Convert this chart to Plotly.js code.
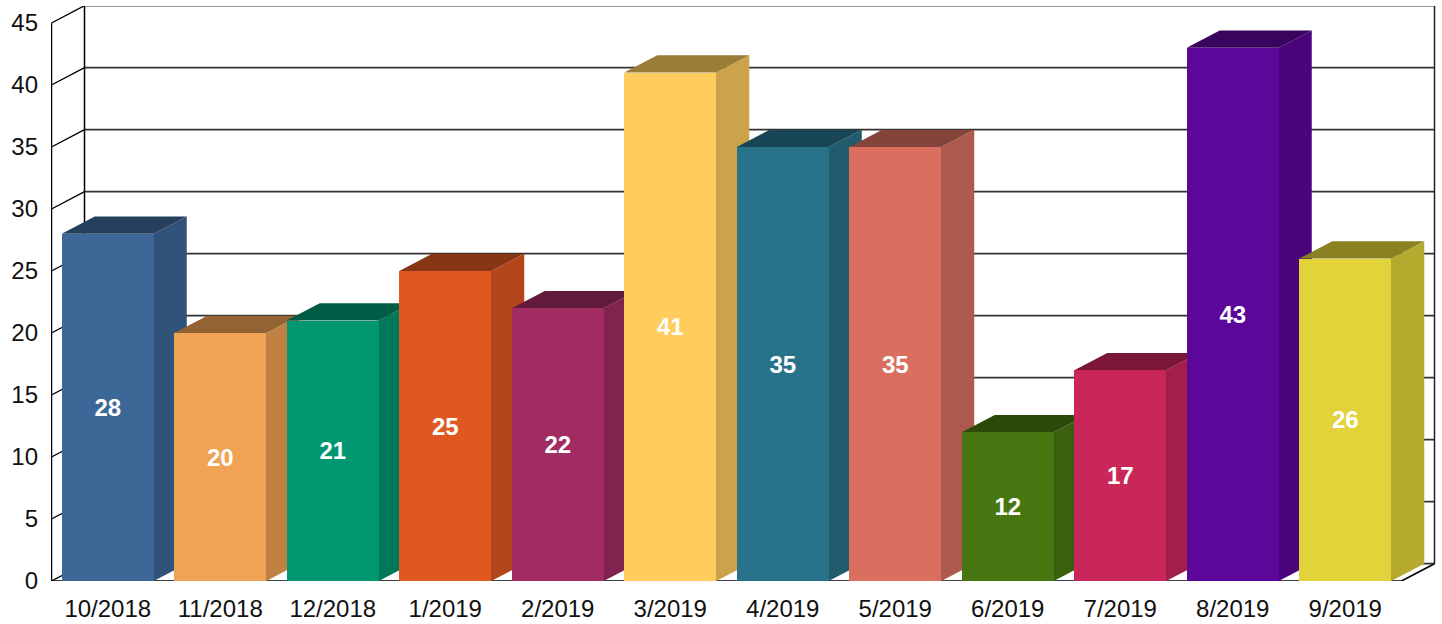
<!DOCTYPE html>
<html><head><meta charset="utf-8">
<script src="https://cdn.plot.ly/plotly-3.0.1.min.js"></script>
<style>html,body{margin:0;padding:0;background:#fff}#c{width:1442px;height:624px}</style>
</head><body><div id="c"></div>
<script>
const categories = ['10/2018','11/2018','12/2018','1/2019','2/2019','3/2019','4/2019','5/2019','6/2019','7/2019','8/2019','9/2019'];
const values = [28,20,21,25,22,41,35,35,12,17,43,26];
const colors = ['#3D6797','#F0A354','#00966F','#DE5820','#A02C62','#FFCC5E','#28728A','#DA6F60','#487711','#C9275A','#5D069A','#E2D33A'];
const yTicks = [0,5,10,15,20,25,30,35,40,45];

const W = 1442, H = 624;
const L = 51, T = 6, B = 43, R = 6;
const band = 112.5, unit = 12.4, depthPx = 33, risePx = 17.3, barPx = 92;
const dx = depthPx / band, dy = risePx / unit, halfW = barPx / band / 2;
const xLo = -0.5 - 0.5 / band;
const xHi = xLo + (W - L - R) / band;
const yMax = (H - T - B) / unit;
const xs = categories.map((_, i) => i);

function shade(hex, f) {
  const n = parseInt(hex.slice(1), 16);
  const c = [n >> 16, (n >> 8) & 255, n & 255].map(v => Math.round(v * f));
  return 'rgb(' + c.join(',') + ')';
}
function line(x, y, color, width) {
  return {type:'scatter', mode:'lines', x, y, xaxis:'x', yaxis:'y', hoverinfo:'skip', showlegend:false,
          cliponaxis:false, line:{color, width}};
}

const traces = [];
const x0 = -0.5, x1 = categories.length - 0.5;
// Back wall and left wall gridlines
yTicks.forEach(v => {
  traces.push(line([x0 + dx, x1 + dx], [v + dy, v + dy], '#333', 1.7));
  traces.push(line([x0, x0 + dx], [v, v + dy], '#000', 1.4));
});
traces.push(line([x0, x0], [0, 45], '#000', 1.5));
traces.push(line([x0 + dx, x0 + dx], [dy, 45 + dy], '#000', 1.5));
traces.push(line([x1 + dx, x1 + dx], [dy, 45 + dy], '#222', 1.5));
traces.push(line([x0, x1, x1 + dx], [0, 0, dy], '#000', 1.6));

// Side and top faces, in order from left to right; each runs slightly under the front face
const tuck = 0.015;
values.forEach((v, i) => {
  const a = xs[i] - halfW, b = xs[i] + halfW;
  traces.push({type:'scatter', mode:'lines', fill:'toself', fillcolor:shade(colors[i], 0.8), line:{width:0},
    x:[b - tuck, b, b + dx, b + dx, b, b - tuck], y:[0, 0, dy, v + dy, v, v], xaxis:'x', yaxis:'y', hoverinfo:'skip', showlegend:false});
  traces.push({type:'scatter', mode:'lines', fill:'toself', fillcolor:shade(colors[i], 0.61), line:{width:0},
    x:[a, a, b, b + dx, a + dx, a], y:[v - tuck * 4, v, v, v + dy, v + dy, v], xaxis:'x', yaxis:'y', hoverinfo:'skip', showlegend:false});
  traces.push({type:'scatter', mode:'lines', fill:'toself', fillcolor:shade(colors[i], 0.61), line:{width:0},
    x:[a, b, b, a, a], y:[v - tuck * 4, v - tuck * 4, v, v, v - tuck * 4], xaxis:'x', yaxis:'y', hoverinfo:'skip', showlegend:false});
});

// Front faces drawn on an overlaying subplot, so each covers its left neighbour's side
traces.push({type:'bar', x:xs, y:values, width:barPx / band, xaxis:'x2', yaxis:'y2', showlegend:false,
  marker:{color:colors, line:{width:0}},
  text:values.map(String), textposition:'inside', insidetextanchor:'middle', constraintext:'none',
  textangle:0, textfont:{family:'Liberation Sans, Arial, sans-serif', size:24, color:'#fff', weight:700},
  hoverinfo:'x+y'});

const fontTick = {family:'Liberation Sans, Arial, sans-serif', size:24, color:'#111'};
const layout = {
  width:W, height:H, paper_bgcolor:'#fff', plot_bgcolor:'#fff', showlegend:false, bargap:0,
  margin:{l:L, r:R, t:T, b:B, pad:0},
  xaxis:{range:[xLo, xHi], tickmode:'array', tickvals:xs, ticktext:categories, tickfont:fontTick, showgrid:false,
         zeroline:false, showline:false, ticks:'', ticklabelstandoff:11, fixedrange:true},
  yaxis:{range:[0, yMax], tickmode:'array', tickvals:yTicks, ticktext:yTicks.map(String), tickfont:fontTick, showgrid:false,
         zeroline:false, showline:false, ticks:'', ticklabelstandoff:12, fixedrange:true},
  xaxis2:{overlaying:'x', matches:'x', range:[xLo, xHi], visible:false, fixedrange:true},
  yaxis2:{overlaying:'y', matches:'y', range:[0, yMax], visible:false, fixedrange:true}
};
Plotly.newPlot('c', traces, layout, {displayModeBar:false, staticPlot:true});
</script></body></html>
